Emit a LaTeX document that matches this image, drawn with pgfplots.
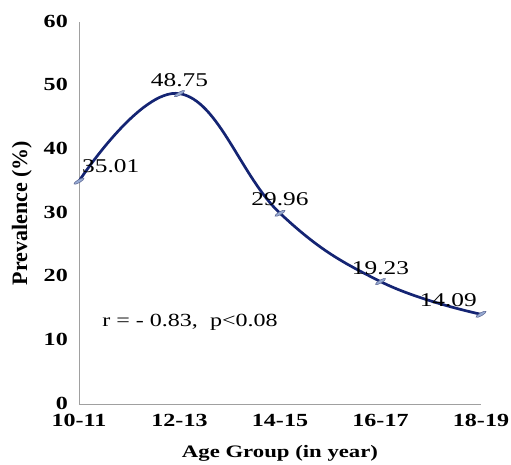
\documentclass[border=0pt]{standalone}
\usepackage{fontspec}
\setmainfont{Liberation Serif}
\newfontfamily\sfont[FakeStretch=1.3]{Liberation Serif}
\usepackage{pgfplots}
\pgfplotsset{compat=1.18}
\definecolor{navy}{RGB}{20,36,115}
\definecolor{mkfill}{RGB}{150,170,210}
\definecolor{mkdraw}{RGB}{90,100,145}
\definecolor{axgray}{RGB}{160,160,160}
\begin{document}
\begin{tikzpicture}
\begin{axis}[
  at={(0,0)}, anchor=south west,
  scale only axis, width=402pt, height=382pt,
  xmin=0, xmax=4, ymin=0, ymax=60,
  axis x line*=bottom, axis y line*=left,
  axis line style={draw=axgray, line width=0.9pt},
  xtick={0,1,2,3,4},
  xticklabels={10-11,12-13,14-15,16-17,18-19},
  ytick={0,10,20,30,40,50,60},
  major tick length=0pt,
  /pgf/number format/assume math mode=true,
  yticklabel style={anchor=east, inner sep=0pt, xshift=-11pt, yshift=1pt, font={\sfont\bfseries\fontsize{18.5pt}{18.5pt}\selectfont}},
  xticklabel style={anchor=north, inner sep=0pt, yshift=-10pt, font={\sfont\bfseries\fontsize{18.5pt}{18.5pt}\selectfont}},
  xlabel={Age Group (in year)},
  ylabel={Prevalence (\%)},
  xlabel style={at={(axis description cs:0.5,-0.128)}, anchor=center, inner sep=0pt, font={\sfont\bfseries\fontsize{17.5pt}{17.5pt}\selectfont}},
  ylabel style={at={(axis description cs:-0.142,0.5)}, anchor=center, inner sep=0pt, rotate=0, font={\bfseries\fontsize{22pt}{22pt}\selectfont}},
  clip=false,
]
\addplot[color=navy, line width=2.7pt, smooth, tension=0.7,
  mark=*, mark size=1.8pt,
  mark options={solid, line width=0.5pt, fill=mkfill, draw=mkdraw, rotate=30, xscale=3.2, yscale=0.85}]
  coordinates {(0,35.01)(1,48.75)(2,29.96)(3,19.23)(4,14.09)};
\addplot[draw=none, mark=none, nodes near coords, point meta=explicit symbolic,
  every node near coord/.style={anchor=south, inner sep=0pt, yshift=7pt, text=black, font={\sfont\fontsize{19.5pt}{19.5pt}\selectfont}}]
  coordinates {(1,48.75)[48.75] (2,29.96)[29.96] (3,19.23)[19.23]};
\addplot[draw=none, mark=none, nodes near coords, point meta=explicit symbolic,
  every node near coord/.style={anchor=south west, inner sep=0pt, xshift=3pt, yshift=8pt, text=black, font={\sfont\fontsize{19.5pt}{19.5pt}\selectfont}}]
  coordinates {(0,35.01)[35.01]};
\addplot[draw=none, mark=none, nodes near coords, point meta=explicit symbolic,
  every node near coord/.style={anchor=south east, inner sep=0pt, xshift=-4pt, yshift=7pt, text=black, font={\sfont\fontsize{19.5pt}{19.5pt}\selectfont}}]
  coordinates {(4,14.09)[14.09]};
\node[anchor=west, inner sep=0pt, font={\sfont\fontsize{18.5pt}{18.5pt}\selectfont}] at (axis cs:0.23,12.9) {r = - 0.83,\ \ p<0.08};
\end{axis}
\pgfresetboundingbox
\path (-79pt,-60pt) rectangle (432pt,404pt);
\end{tikzpicture}
\end{document}
